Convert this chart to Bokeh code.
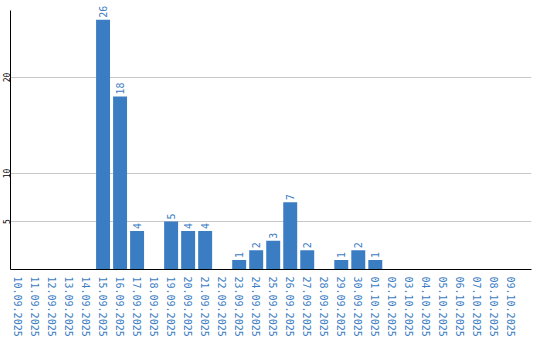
import math
from bokeh.plotting import figure
from bokeh.models import Range1d, FixedTicker, ColumnDataSource
from bokeh.core.properties import value
from bokeh.embed import file_html
from bokeh.resources import INLINE

dates = ["10.09.2025", "11.09.2025", "12.09.2025", "13.09.2025", "14.09.2025",
         "15.09.2025", "16.09.2025", "17.09.2025", "18.09.2025", "19.09.2025",
         "20.09.2025", "21.09.2025", "22.09.2025", "23.09.2025", "24.09.2025",
         "25.09.2025", "26.09.2025", "27.09.2025", "28.09.2025", "29.09.2025",
         "30.09.2025", "01.10.2025", "02.10.2025", "03.10.2025", "04.10.2025",
         "05.10.2025", "06.10.2025", "07.10.2025", "08.10.2025", "09.10.2025"]
counts = [0, 0, 0, 0, 0, 26, 18, 4, 0, 5, 4, 4, 0, 1, 2, 3, 7, 2, 0, 1, 2, 1,
          0, 0, 0, 0, 0, 0, 0, 0]
y_ticks = [5, 10, 20]

BLUE = "#3b7dc3"
FONT = "DejaVu Sans Mono"

idx = list(range(len(dates)))
src = ColumnDataSource(dict(x=idx, top=counts))
lab_x = [i for i, c in zip(idx, counts) if c > 0]
lab_y = [c for c in counts if c > 0]
lab_t = [str(c) for c in counts if c > 0]
lab = ColumnDataSource(dict(x=lab_x, y=lab_y, t=lab_t))

p = figure(width=540, height=340, output_backend="svg", toolbar_location=None,
           x_range=Range1d(-0.44, 30.18), y_range=Range1d(0, 27.8),
           min_border_left=0, min_border_right=9, min_border_top=2,
           min_border_bottom=71)
p.outline_line_color = None
p.background_fill_color = "white"

p.vbar(x="x", top="top", width=0.82, source=src, fill_color=BLUE, line_color=None)
p.text(x="x", y="y", text="t", source=lab, angle=math.pi / 2, y_offset=-2,
       text_align="left", text_baseline="middle", text_color=BLUE,
       text_font=value(FONT), text_font_size="10px")

p.xaxis.ticker = FixedTicker(ticks=idx)
p.xaxis.major_label_overrides = {i: d for i, d in enumerate(dates)}
p.xaxis.major_label_orientation = "vertical"
p.xaxis.major_label_text_color = BLUE
p.xaxis.major_label_text_font = FONT
p.xaxis.major_label_text_font_size = "10px"
p.xaxis.major_label_standoff = 7
p.xaxis.major_tick_out = 0
p.xaxis.major_tick_in = 0
p.xaxis.minor_tick_out = 0
p.xaxis.minor_tick_in = 0
p.xaxis.axis_line_color = "black"

p.yaxis.ticker = FixedTicker(ticks=y_ticks)
p.yaxis.bounds = (0, 27)
p.yaxis.major_label_orientation = "vertical"
p.yaxis.major_label_text_color = "black"
p.yaxis.major_label_text_font = FONT
p.yaxis.major_label_text_font_size = "8px"
p.yaxis.major_label_standoff = 0
p.yaxis.major_tick_out = 0
p.yaxis.major_tick_in = 0
p.yaxis.minor_tick_out = 0
p.yaxis.minor_tick_in = 0
p.yaxis.axis_line_color = "black"

p.xgrid.grid_line_color = None
p.ygrid.grid_line_color = "#c8c8c8"
p.ygrid.ticker = FixedTicker(ticks=y_ticks)

open("out.html", "w").write(file_html(p, INLINE))
